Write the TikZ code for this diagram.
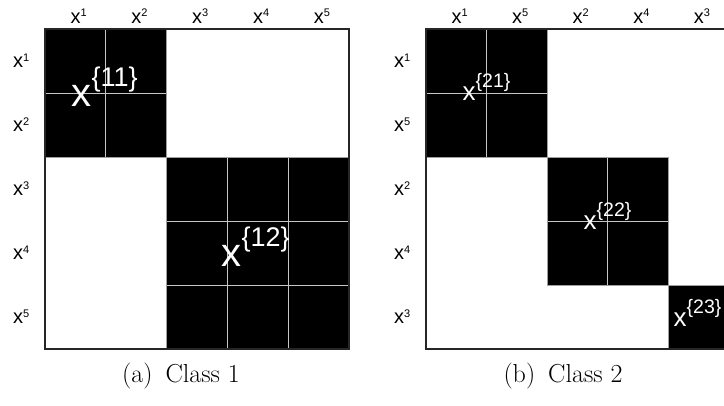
\documentclass[tikz,border=0pt]{standalone}
\usepackage{fontspec}
\newfontfamily\labfont{Liberation Sans}
\newcommand{\ticklab}[1]{{\labfont\fontsize{20}{20}\selectfont x\raisebox{6.6pt}{\fontsize{11}{11}\selectfont #1}}}
\newcommand{\biglab}[1]{{\labfont\fontsize{40}{40}\selectfont x\raisebox{20pt}{\fontsize{27}{27}\selectfont\{#1\}}}}
\newcommand{\medlab}[1]{{\labfont\fontsize{26}{26}\selectfont x\raisebox{13pt}{\fontsize{19.5}{19.5}\selectfont\{#1\}}}}
\tikzset{
  blk/.style={fill=black},
  innerln/.style={draw=gray!45, line width=0.8pt},
  blkedge/.style={draw=gray!75, line width=0.9pt},
  axisbox/.style={draw=black!85, line width=1.2pt},
  lab/.style={inner sep=0pt, anchor=base west, text=black},
  wlab/.style={inner sep=0pt, anchor=base west, text=white},
  capt/.style={inner sep=0pt, anchor=base, font=\fontsize{26}{26}\selectfont}
}
\begin{document}
\begin{tikzpicture}[x=1pt, y=-1pt]
\useasboundingbox (0,0) rectangle (724,406);
\clip (0,0) rectangle (724,406);
% ---------------- left panel ----------------
\fill[blk] (45,29) rectangle (166.6,157);
\fill[blk] (166.6,157) rectangle (349,349);
\draw[innerln] (105.8,29) -- (105.8,157);
\draw[innerln] (45,93) -- (166.6,93);
\draw[innerln] (227.4,157) -- (227.4,349);
\draw[innerln] (288.2,157) -- (288.2,349);
\draw[innerln] (166.6,221) -- (349,221);
\draw[innerln] (166.6,285) -- (349,285);
\draw[blkedge] (45,29) rectangle (166.6,157);
\draw[blkedge] (166.6,157) rectangle (349,349);
\draw[axisbox] (45,29) rectangle (349,349);
% column labels
\node[lab] (la1) at (70.4,23.3) {\ticklab{1}};
\node[lab] (la2) at (131.2,23.3) {\ticklab{2}};
\node[lab] (la3) at (192.0,23.3) {\ticklab{3}};
\node[lab] (la4) at (252.8,23.3) {\ticklab{4}};
\node[lab] (la5) at (313.6,23.3) {\ticklab{5}};
% row labels
\node[lab] (ra1) at (13,68) {\ticklab{1}};
\node[lab] (ra2) at (13,132) {\ticklab{2}};
\node[lab] (ra3) at (13,196) {\ticklab{3}};
\node[lab] (ra4) at (13,260) {\ticklab{4}};
\node[lab] (ra5) at (13,324) {\ticklab{5}};
% block labels
\node[wlab] (b11) at (71.5,106.7) {\biglab{11}};
\node[wlab] (b12) at (221.5,266.7) {\biglab{12}};
% caption
\node[capt] (capa) at (181,383) {(a)\hspace{0.5em}Class 1};
% ---------------- right panel ----------------
\fill[blk] (426,29) rectangle (547.2,157);
\fill[blk] (547.2,157) rectangle (668.4,285);
\fill[blk] (668.4,285) rectangle (729,349);
\draw[innerln] (486.6,29) -- (486.6,157);
\draw[innerln] (426,93) -- (547.2,93);
\draw[innerln] (607.8,157) -- (607.8,285);
\draw[innerln] (547.2,221) -- (668.4,221);
\draw[blkedge] (426,29) rectangle (547.2,157);
\draw[blkedge] (547.2,157) rectangle (668.4,285);
\draw[blkedge] (668.4,285) rectangle (729,349);
\draw[axisbox] (426,29) rectangle (729,349);
% column labels
\node[lab] (lb1) at (451.3,23.3) {\ticklab{1}};
\node[lab] (lb5) at (511.9,23.3) {\ticklab{5}};
\node[lab] (lb2) at (572.5,23.3) {\ticklab{2}};
\node[lab] (lb4) at (633.1,23.3) {\ticklab{4}};
\node[lab] (lb3) at (693.7,23.3) {\ticklab{3}};
% row labels
\node[lab] (rb1) at (394,68) {\ticklab{1}};
\node[lab] (rb5) at (394,132) {\ticklab{5}};
\node[lab] (rb2) at (394,196) {\ticklab{2}};
\node[lab] (rb4) at (394,260) {\ticklab{4}};
\node[lab] (rb3) at (394,324) {\ticklab{3}};
% block labels
\node[wlab] (b21) at (462.5,101) {\medlab{21}};
\node[wlab] (b22) at (583.5,230) {\medlab{22}};
\node[wlab] (b23) at (673.5,327) {\medlab{23}};
% caption
\node[capt] (capb) at (563,383) {(b)\hspace{0.5em}Class 2};
\end{tikzpicture}
\end{document}
